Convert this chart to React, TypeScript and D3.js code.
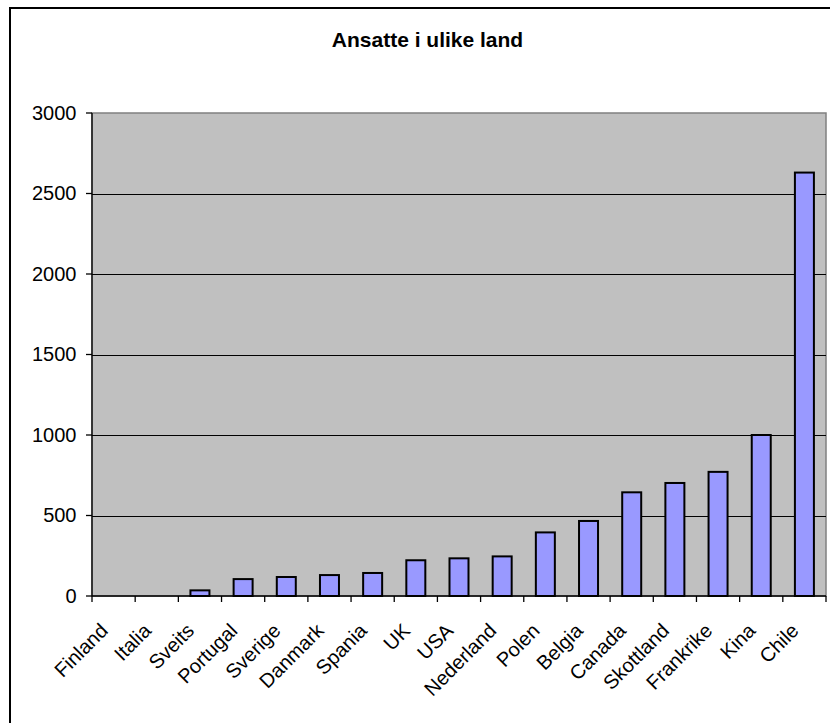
import { useEffect, useRef } from "react";
import * as d3 from "d3";

const countries = [
  "Finland", "Italia", "Sveits", "Portugal", "Sverige", "Danmark", "Spania", "UK", "USA",
  "Nederland", "Polen", "Belgia", "Canada", "Skottland", "Frankrike", "Kina", "Chile",
];
const employees = [0, 0, 35, 105, 118, 130, 143, 222, 234, 246, 395, 466, 644, 702, 771, 1000, 2630];
const yTicks = [0, 500, 1000, 1500, 2000, 2500, 3000];
const title = "Ansatte i ulike land";

const FONT = "Arial, 'Liberation Sans', sans-serif";

function renderChart(el: SVGSVGElement) {
  const w = 830,
    h = 723,
    plot = { left: 92, right: 826, top: 113, bottom: 596 };
  const svg = d3.select(el);
  svg.selectAll("*").remove();
  svg.attr("width", w).attr("height", h).attr("viewBox", `0 0 ${w} ${h}`);

  svg.append("rect").attr("width", w).attr("height", h).attr("fill", "#fff");

  // outer chart-area frame (right and bottom edges fall outside the picture)
  svg
    .append("path")
    .attr("d", `M10,${h} V8 H${w}`)
    .attr("fill", "none")
    .attr("stroke", "#000")
    .attr("stroke-width", 2);

  svg
    .append("text")
    .attr("x", 427.5)
    .attr("y", 47)
    .attr("text-anchor", "middle")
    .attr("font-family", FONT)
    .attr("font-weight", "bold")
    .attr("font-size", 21)
    .text(title);

  const x = d3.scaleBand().domain(countries).range([plot.left, plot.right]).padding(0);
  const y = d3.scaleLinear().domain([0, 3000]).range([plot.bottom, plot.top]);

  svg
    .append("rect")
    .attr("x", plot.left)
    .attr("y", plot.top)
    .attr("width", plot.right - plot.left)
    .attr("height", plot.bottom - plot.top)
    .attr("fill", "#c0c0c0")
    .attr("stroke", "#808080")
    .attr("stroke-width", 1.5);

  yTicks
    .filter((t) => t > 0 && t < 3000)
    .forEach((t) => {
      svg
        .append("line")
        .attr("x1", plot.left)
        .attr("x2", plot.right)
        .attr("y1", Math.round(y(t)) + 0.5)
        .attr("y2", Math.round(y(t)) + 0.5)
        .attr("stroke", "#000")
        .attr("stroke-width", 1);
    });

  const barW = x.bandwidth() * 0.44;
  svg
    .selectAll(".bar")
    .data(countries)
    .join("rect")
    .attr("class", "bar")
    .attr("x", (d) => x(d)! + (x.bandwidth() - barW) / 2)
    .attr("width", barW)
    .attr("y", (d, i) => y(employees[i]))
    .attr("height", (d, i) => y(0) - y(employees[i]))
    .attr("fill", "#9999ff")
    .attr("stroke", "#000")
    .attr("stroke-width", (d, i) => (employees[i] > 0 ? 2 : 0));

  // axes
  const axisG = svg.append("g").attr("stroke", "#000").attr("stroke-width", 1.3);
  axisG.append("line").attr("x1", plot.left).attr("x2", plot.left).attr("y1", plot.top).attr("y2", plot.bottom);
  axisG.append("line").attr("x1", plot.left).attr("x2", plot.right).attr("y1", plot.bottom).attr("y2", plot.bottom);
  yTicks.forEach((t) => {
    axisG.append("line").attr("x1", plot.left - 6).attr("x2", plot.left).attr("y1", y(t)).attr("y2", y(t));
  });
  d3.range(countries.length + 1).forEach((i) => {
    const xx = plot.left + i * x.step();
    axisG.append("line").attr("x1", xx).attr("x2", xx).attr("y1", plot.bottom).attr("y2", plot.bottom + 6);
  });

  svg
    .selectAll(".ylab")
    .data(yTicks)
    .join("text")
    .attr("class", "ylab")
    .attr("x", 76.5)
    .attr("y", (d) => y(d) + 6.5)
    .attr("text-anchor", "end")
    .attr("font-family", FONT)
    .attr("font-size", 20)
    .text((d) => d);

  svg
    .selectAll(".xlab")
    .data(countries)
    .join("text")
    .attr("class", "xlab")
    .attr("transform", (d) => `translate(${x(d)! + x.bandwidth() / 2 - 4.5},632) rotate(-45)`)
    .attr("text-anchor", "end")
    .attr("font-family", FONT)
    .attr("font-size", 20)
    .text((d) => d);
}

export default function App() {
  const ref = useRef<SVGSVGElement>(null);

  useEffect(() => {
    if (ref.current) renderChart(ref.current);
  }, []);

  return (
    <div style={{ position: "absolute", left: 0, top: 0 }}>
      <svg ref={ref} style={{ display: "block" }} />
    </div>
  );
}
